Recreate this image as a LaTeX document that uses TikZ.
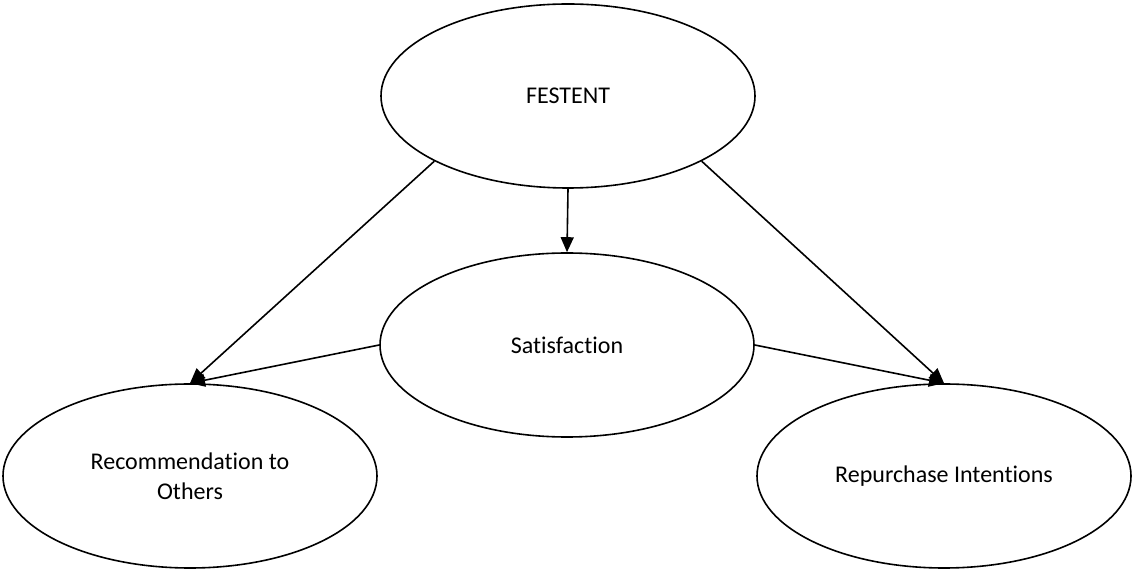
\documentclass[tikz,border=0pt]{standalone}
\usepackage{fontspec}
\setmainfont{Carlito}[Ligatures=NoCommon]
\usetikzlibrary{shapes.geometric,arrows.meta}
\begin{document}
\begin{tikzpicture}[x=1pt,y=1pt,
  construct/.style={ellipse, draw, line width=1.6pt, fill=white,
    minimum width=374pt, minimum height=184pt, inner sep=0pt,
    align=center, font=\fontsize{24}{30}\selectfont},
  link/.style={line width=1.6pt, -{Triangle[length=15pt,width=13pt]}}]
  \useasboundingbox (0,0) rectangle (1132,570);
  \fill[white] (0,0) rectangle (1132,570);

  \node[construct] (fes) at (568,474) {FESTENT};
  \node[construct] (sat) at (567,225) {Satisfaction};
  \node[construct] (rec) at (190,94) {Recommendation to\\Others};
  \node[construct] (rep) at (944,94) {Repurchase Intentions};

  \draw[link] (fes.south) -- (sat.north);
  \draw[link] (fes.206) -- (rec.north);
  \draw[link] (fes.334) -- (rep.north);
  \draw[link] (sat.west) -- (rec.north);
  \draw[link] (sat.east) -- (rep.north);
\end{tikzpicture}
\end{document}
